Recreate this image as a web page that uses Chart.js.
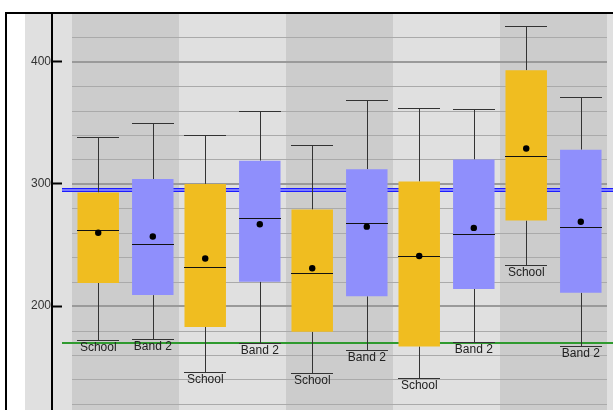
<!DOCTYPE html>
<html>
<head>
<meta charset="utf-8">
<script src="https://cdn.jsdelivr.net/npm/chart.js@4.4.0/dist/chart.umd.min.js"></script>
<style>
  html, body { margin: 0; padding: 0; background: #fff; overflow: hidden; }
  canvas { display: block; }
</style>
</head>
<body>
<canvas id="chart" width="613" height="410"></canvas>
<script>
// Group positions along the x axis (one shaded band per group)
const groups = [1, 2, 3, 4, 5];
const seriesNames = ['School', 'Band 2'];

// School distribution per group
const schoolMin  = [172, 146, 145, 141, 234];
const schoolQ1   = [219, 183, 179, 167, 270];
const schoolMed  = [262, 232, 227, 241, 323];
const schoolQ3   = [293, 300, 279, 302, 393];
const schoolMax  = [338, 340, 332, 362, 429];
const schoolMean = [260, 239, 231, 241, 329];

// Band 2 distribution per group
const bandMin  = [173, 170, 164, 171, 167];
const bandQ1   = [209, 220, 208, 214, 211];
const bandMed  = [251, 272, 268, 259, 265];
const bandQ3   = [304, 319, 312, 320, 328];
const bandMax  = [350, 360, 369, 361, 371];
const bandMean = [257, 267, 265, 264, 269];

// Value axis
const yTicks = [200, 300, 400];
const gridStep = 20;

// Horizontal reference levels
const targetLevel = 295;
const floorLevel = 170;

const stats = [
  { min: schoolMin, q1: schoolQ1, med: schoolMed, q3: schoolQ3, max: schoolMax, mean: schoolMean },
  { min: bandMin,   q1: bandQ1,   med: bandMed,   q3: bandQ3,   max: bandMax,   mean: bandMean }
];

const FONT = '"Liberation Sans", Arial, sans-serif';

const boxDecor = {
  id: 'boxDecor',
  beforeDraw(chart) {
    const { ctx, width, height, chartArea, scales: { x } } = chart;
    ctx.save();
    ctx.fillStyle = '#ffffff';
    ctx.fillRect(0, 0, width, height);
    ctx.fillStyle = '#e0e0e0';
    ctx.fillRect(25, 14, width - 25, height - 14);
    groups.forEach((g, i) => {
      const l = Math.round(x.getPixelForValue(g - 0.5));
      const r = Math.round(x.getPixelForValue(g + 0.5));
      ctx.fillStyle = i % 2 === 0 ? '#cccccc' : '#e0e0e0';
      ctx.fillRect(l, chartArea.top, r - l, chartArea.bottom - chartArea.top);
    });
    // outer frame
    ctx.fillStyle = '#000';
    ctx.fillRect(5, 12, width - 5, 2);
    ctx.fillRect(5, 12, 2, height - 12);
    ctx.restore();
  },
  beforeDatasetsDraw(chart) {
    const { ctx, width, chartArea, scales: { x, y } } = chart;
    ctx.save();
    // horizontal grid every gridStep units
    const gl = Math.round(x.getPixelForValue(groups[0] - 0.5));
    const gr = Math.round(x.getPixelForValue(groups[groups.length - 1] + 0.5));
    for (let v = Math.ceil(y.min / gridStep) * gridStep; v <= y.max; v += gridStep) {
      const py = Math.round(y.getPixelForValue(v));
      const major = v % 100 === 0;
      ctx.fillStyle = major ? '#9a9a9a' : '#aaaaaa';
      ctx.fillRect(gl, py - (major ? 1 : 0), gr - gl, major ? 2 : 1);
    }
    // reference levels
    const x0 = chartArea.left + 10;
    const ty = Math.round(y.getPixelForValue(targetLevel));
    ctx.fillStyle = '#1c1cff';
    ctx.fillRect(x0, ty - 2, width - x0, 4);
    ctx.fillStyle = '#7a7aff';
    ctx.fillRect(x0, ty - 1, width - x0, 2);
    const fy = Math.round(y.getPixelForValue(floorLevel));
    ctx.fillStyle = '#2f9a2f';
    ctx.fillRect(x0, fy - 1, width - x0, 2);

    // whiskers and caps
    ctx.strokeStyle = '#333';
    ctx.lineWidth = 1;
    stats.forEach((s, di) => {
      const meta = chart.getDatasetMeta(di);
      meta.data.forEach((bar, j) => {
        const cx = Math.round(bar.x) + 0.5;
        const hw = bar.width / 2;
        const pMax = Math.round(y.getPixelForValue(s.max[j])) + 0.5;
        const pMin = Math.round(y.getPixelForValue(s.min[j])) + 0.5;
        const pQ3 = y.getPixelForValue(s.q3[j]);
        const pQ1 = y.getPixelForValue(s.q1[j]);
        ctx.beginPath();
        ctx.moveTo(cx, pMax); ctx.lineTo(cx, pQ3);
        ctx.moveTo(cx, pQ1); ctx.lineTo(cx, pMin);
        ctx.moveTo(Math.round(bar.x - hw), pMax); ctx.lineTo(Math.round(bar.x + hw), pMax);
        ctx.moveTo(Math.round(bar.x - hw), pMin); ctx.lineTo(Math.round(bar.x + hw), pMin);
        ctx.stroke();
      });
    });
    ctx.restore();
  },
  afterDatasetsDraw(chart) {
    const { ctx, scales: { y } } = chart;
    ctx.save();
    stats.forEach((s, di) => {
      const meta = chart.getDatasetMeta(di);
      meta.data.forEach((bar, j) => {
        const hw = bar.width / 2;
        // median
        const pMed = Math.round(y.getPixelForValue(s.med[j])) + 0.5;
        ctx.strokeStyle = '#111';
        ctx.lineWidth = 1;
        ctx.beginPath();
        ctx.moveTo(Math.round(bar.x - hw), pMed);
        ctx.lineTo(Math.round(bar.x + hw), pMed);
        ctx.stroke();
        // mean
        ctx.fillStyle = '#000';
        ctx.beginPath();
        ctx.arc(bar.x, y.getPixelForValue(s.mean[j]), 3.2, 0, Math.PI * 2);
        ctx.fill();
        // series name under the lower whisker
        ctx.fillStyle = '#222';
        ctx.font = '12px ' + FONT;
        ctx.textAlign = 'center';
        ctx.textBaseline = 'top';
        ctx.fillText(seriesNames[di], bar.x, Math.round(y.getPixelForValue(s.min[j])) + 2);
      });
    });
    ctx.restore();
  }
};

new Chart(document.getElementById('chart'), {
  type: 'bar',
  data: {
    datasets: [
      {
        label: seriesNames[0],
        data: groups.map((g, i) => ({ x: g, y: [schoolQ1[i], schoolQ3[i]] })),
        backgroundColor: '#f0bd20',
        borderWidth: 0
      },
      {
        label: seriesNames[1],
        data: groups.map((g, i) => ({ x: g, y: [bandQ1[i], bandQ3[i]] })),
        backgroundColor: '#8f8ffc',
        borderWidth: 0
      }
    ]
  },
  options: {
    responsive: false,
    animation: false,
    devicePixelRatio: 1,
    categoryPercentage: 1.02,
    barPercentage: 0.76,
    layout: { padding: { top: 14, left: 0, right: 0, bottom: 0 } },
    plugins: { legend: { display: false }, tooltip: { enabled: false } },
    scales: {
      x: {
        type: 'linear',
        display: false,
        offset: false,
        grid: { offset: false },
        min: 0.313,
        max: 5.556,
        afterBuildTicks(scale) {
          scale.ticks = groups.map(v => ({ value: v }));
        }
      },
      y: {
        min: 115,
        max: 439,
        afterBuildTicks(scale) {
          scale.ticks = yTicks.map(v => ({ value: v }));
        },
        afterFit(scale) {
          scale.width = 52;
          scale.paddingTop = 0;
          scale.paddingBottom = 0;
        },
        border: { display: true, color: '#000', width: 2 },
        grid: {
          drawOnChartArea: false,
          drawTicks: true,
          tickLength: -10,
          tickColor: '#000',
          tickWidth: 2
        },
        ticks: {
          padding: 11,
          color: '#333',
          font: { family: FONT, size: 12 },
          callback: v => String(v)
        }
      }
    }
  },
  plugins: [boxDecor]
});
</script>
</body>
</html>
